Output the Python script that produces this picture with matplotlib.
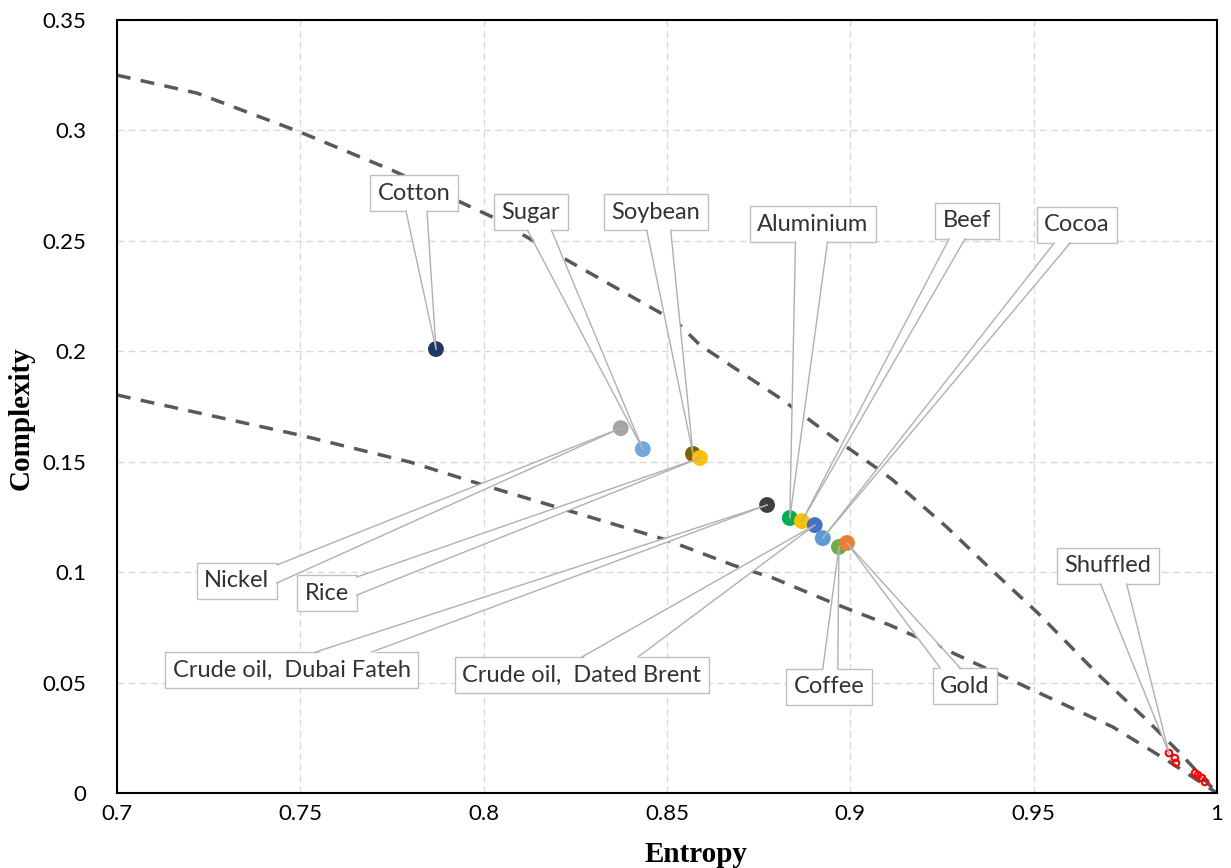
import matplotlib.pyplot as plt
from matplotlib.patches import Polygon
from matplotlib.ticker import MultipleLocator, FuncFormatter

plt.rcParams['font.family'] = ['Lato', 'DejaVu Sans']

# commodity positions on the complexity-entropy plane
names = ['Cotton', 'Nickel', 'Sugar', 'Soybean', 'Rice', 'Crude oil,  Dubai Fateh',
         'Aluminium', 'Beef', 'Crude oil,  Dated Brent', 'Cocoa', 'Coffee', 'Gold']
entropy = [0.787, 0.8374, 0.8434, 0.8571, 0.859, 0.8773,
           0.8835, 0.8868, 0.8903, 0.8925, 0.8969, 0.8991]
complexity = [0.201, 0.1652, 0.1557, 0.1535, 0.1517, 0.1304,
              0.1245, 0.1231, 0.1213, 0.1154, 0.1114, 0.1132]
colors = ['#1F3864', '#A5A5A5', '#6FA8DC', '#7F6000', '#FFC000', '#404040',
          '#00B050', '#FFC000', '#4472C4', '#5B9BD5', '#70AD47', '#ED7D31']

# shuffled series
shuf_h = [0.9869, 0.9885, 0.9888, 0.994, 0.9948, 0.9959, 0.9967]
shuf_c = [0.0181, 0.0158, 0.0136, 0.009, 0.0081, 0.0068, 0.005]

# upper and lower bounds of the plane
max_h = [0.7, 0.7218, 0.75, 0.775, 0.8025, 0.8118, 0.8227, 0.8527, 0.859, 0.8808,
         0.8963, 0.908, 0.9116, 0.9263, 0.94, 0.9509, 0.9672, 0.9809, 0.9899, 1.0]
max_c = [0.325, 0.3169, 0.2992, 0.282, 0.2607, 0.2517, 0.2413, 0.2132, 0.2028, 0.1788,
         0.1598, 0.1462, 0.1417, 0.1204, 0.0987, 0.0819, 0.0543, 0.033, 0.0181, 0.0]
min_h = [0.7, 0.75, 0.78, 0.8017, 0.85, 0.868, 0.879, 0.8953, 0.9108,
         0.9263, 0.9498, 0.9716, 0.9863, 1.0]
min_c = [0.1802, 0.162, 0.1498, 0.1385, 0.1145, 0.1032, 0.0973, 0.086, 0.076,
         0.0647, 0.0466, 0.0299, 0.0149, 0.0]

# callout placement (text centre, data units) and wedge base width (px)
callouts = {
    'Cotton': ((0.781, 0.2716), 21),
    'Sugar': ((0.8129, 0.263), 24),
    'Soybean': ((0.847, 0.263), 24),
    'Aluminium': ((0.8898, 0.2576), 32),
    'Beef': ((0.9318, 0.259), 16),
    'Cocoa': ((0.9618, 0.2572), 16),
    'Nickel': ((0.7327, 0.096), 18),
    'Rice': ((0.7573, 0.0905), 18),
    'Crude oil,  Dubai Fateh': ((0.7477, 0.0557), 56),
    'Crude oil,  Dated Brent': ((0.8268, 0.0534), 56),
    'Coffee': ((0.8942, 0.048), 15),
    'Gold': ((0.9313, 0.0484), 20),
    'Shuffled': ((0.9702, 0.1028), 26),
}

fig = plt.figure(figsize=(12.31, 8.68), dpi=100)
ax = fig.add_axes([0.095, 0.0864, 0.8936, 0.8906])

ax.plot(max_h, max_c, color='#595959', lw=2.5, ls=(0, (4, 3)), zorder=2)
ax.plot(min_h, min_c, color='#595959', lw=2.5, ls=(0, (4, 3)), zorder=2)

ax.scatter(entropy, complexity, s=130, c=colors, zorder=3, linewidths=0)
ax.scatter(shuf_h, shuf_c, s=22, facecolors='none', edgecolors='red', linewidths=1.5, zorder=3)

ax.set_xlim(0.7, 1.0)
ax.set_ylim(0, 0.35)
ax.xaxis.set_major_locator(MultipleLocator(0.05))
ax.yaxis.set_major_locator(MultipleLocator(0.05))
fmt = FuncFormatter(lambda v, p: '%g' % round(v, 2))
ax.xaxis.set_major_formatter(fmt)
ax.yaxis.set_major_formatter(fmt)
ax.tick_params(length=0, labelsize=16, colors='black')
ax.tick_params(axis='x', pad=8)
ax.tick_params(axis='y', pad=22)
ax.grid(True, color='#D9D9D9', lw=1, ls=(0, (5, 3)), zorder=0)
ax.set_axisbelow(True)
for s in ax.spines.values():
    s.set_color('black')
    s.set_linewidth(1.5)

ax.set_xlabel('Entropy', family='Liberation Serif', fontweight='bold', fontsize=21)
ax.set_ylabel('Complexity', family='Liberation Serif', fontweight='bold', fontsize=21)
ax.xaxis.set_label_coords(0.526, -0.062)
ax.yaxis.set_label_coords(-0.0745, 0.485)

# label boxes
targets = [(n, h, c) for n, h, c in zip(names, entropy, complexity)]
targets.append(('Shuffled', shuf_h[0], shuf_c[0]))
texts = []
for n, h, c in targets:
    pos, w = callouts[n]
    t = ax.text(pos[0], pos[1], n, ha='center', va='center', fontsize=17,
                color='#333333', zorder=5,
                bbox=dict(boxstyle='square,pad=0.32', fc='white', ec='#BFBFBF', lw=1))
    texts.append((t, (h, c), w))

fig.canvas.draw()
inv = ax.transData.inverted()


def wedge_base(bb, p, w):
    # where the line from box centre to the point leaves the box
    cx, cy = (bb.x0 + bb.x1) / 2, (bb.y0 + bb.y1) / 2
    dx, dy = p[0] - cx, p[1] - cy
    tx = (bb.width / 2) / abs(dx) if dx else 1e9
    ty = (bb.height / 2) / abs(dy) if dy else 1e9
    if ty < tx:
        ye = bb.y1 if dy > 0 else bb.y0
        xe = min(max(cx + dx * ty, bb.x0 + w / 2 + 2), bb.x1 - w / 2 - 2)
        inward = -2 if dy > 0 else 2
        return [(xe - w / 2, ye), (xe + w / 2, ye)], [(xe - w / 2, ye + inward), (xe + w / 2, ye + inward)]
    xe = bb.x1 if dx > 0 else bb.x0
    ye = min(max(cy + dy * tx, bb.y0 + w / 2 + 2), bb.y1 - w / 2 - 2)
    inward = -2 if dx > 0 else 2
    return [(xe, ye - w / 2), (xe, ye + w / 2)], [(xe + inward, ye - w / 2), (xe + inward, ye + w / 2)]


for t, xy, w in texts:
    bb = t.get_bbox_patch().get_window_extent()
    p = ax.transData.transform(xy)
    base, base_in = wedge_base(bb, p, w)
    fill = inv.transform([base_in[0], tuple(p), base_in[1]])
    ax.add_patch(Polygon(fill, closed=True, fc='white', ec='none', zorder=6, clip_on=False))
    for b in base:
        seg = inv.transform([b, tuple(p)])
        ax.plot(seg[:, 0], seg[:, 1], color='#B0B0B0', lw=1, zorder=6.5, clip_on=False)

fig.savefig('out.png', dpi=100)
